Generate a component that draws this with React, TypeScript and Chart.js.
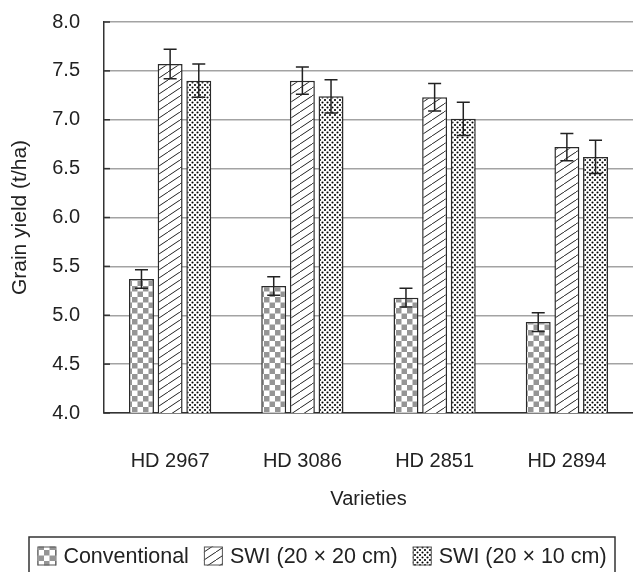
import React, { useEffect, useRef } from "react";
import { Chart, registerables } from "chart.js";

Chart.register(...registerables);

const FONT = "'Liberation Sans', Arial, Helvetica, sans-serif";

const varieties = ["HD 2967", "HD 3086", "HD 2851", "HD 2894"];
const seriesNames = ["Conventional", "SWI (20 × 20 cm)", "SWI (20 × 10 cm)"];
const conventional = [5.37, 5.3, 5.18, 4.93];
const swi20x20 = [7.57, 7.4, 7.23, 6.72];
const swi20x10 = [7.4, 7.24, 7.01, 6.62];
const conventionalErr = [0.095, 0.095, 0.095, 0.095];
const swi20x20Err = [0.15, 0.14, 0.14, 0.14];
const swi20x10Err = [0.17, 0.17, 0.17, 0.17];
const yMin = 4;
const yMax = 8;
const yStep = 0.5;
const xTitle = "Varieties";
const yTitle = "Grain yield (t/ha)";

function makePattern(kind: string): CanvasPattern | string {
  const c = document.createElement("canvas");
  const ctx = c.getContext("2d");
  if (!ctx) return "#ccc";
  if (kind === "checker") {
    const s = 5.5;
    c.width = 11;
    c.height = 11;
    ctx.fillStyle = "#ffffff";
    ctx.fillRect(0, 0, 11, 11);
    ctx.fillStyle = "#959595";
    ctx.fillRect(0, 0, s, s);
    ctx.fillRect(s, s, s, s);
  } else if (kind === "hatch") {
    const w = 12;
    const h = 8;
    c.width = w;
    c.height = h;
    ctx.fillStyle = "#ffffff";
    ctx.fillRect(0, 0, w, h);
    ctx.strokeStyle = "#222222";
    ctx.lineWidth = 1;
    for (const dx of [-w, 0, w]) {
      ctx.beginPath();
      ctx.moveTo(dx, h);
      ctx.lineTo(dx + w, 0);
      ctx.stroke();
    }
  } else {
    const s = 10;
    c.width = s;
    c.height = s;
    ctx.fillStyle = "#ffffff";
    ctx.fillRect(0, 0, s, s);
    ctx.fillStyle = "#000000";
    for (const [px, py] of [
      [2.5, 2.5],
      [7.5, 2.5],
      [0, 5],
      [5, 5],
      [10, 5],
      [2.5, 7.5],
      [7.5, 7.5],
      [0, 0],
      [5, 0],
      [10, 0],
      [0, 10],
      [5, 10],
      [10, 10],
    ]) {
      ctx.beginPath();
      ctx.arc(px, py, 1.05, 0, Math.PI * 2);
      ctx.fill();
    }
  }
  const p = ctx.createPattern(c, "repeat");
  return p || "#ccc";
}

const decorPlugin = {
  id: "decor",
  afterDatasetsDraw(chart: any) {
    const ctx = chart.ctx;
    const yScale = chart.scales.y;
    const area = chart.chartArea;
    ctx.save();
    // inward tick marks on y axis
    ctx.strokeStyle = "#333";
    ctx.lineWidth = 1.5;
    yScale.ticks.forEach((t: any) => {
      const y = yScale.getPixelForValue(t.value);
      ctx.beginPath();
      ctx.moveTo(area.left, y);
      ctx.lineTo(area.left + 6, y);
      ctx.stroke();
    });
    // error bars
    ctx.strokeStyle = "#222";
    ctx.lineWidth = 1.5;
    chart.data.datasets.forEach((ds: any, i: number) => {
      const meta = chart.getDatasetMeta(i);
      meta.data.forEach((el: any, j: number) => {
        const v = ds.data[j];
        const e = ds.errors[j];
        const x = el.x;
        const yTop = yScale.getPixelForValue(v + e);
        const yBot = yScale.getPixelForValue(v - e);
        const cap = 6.5;
        ctx.beginPath();
        ctx.moveTo(x, yTop);
        ctx.lineTo(x, yBot);
        ctx.moveTo(x - cap, yTop);
        ctx.lineTo(x + cap, yTop);
        ctx.moveTo(x - cap, yBot);
        ctx.lineTo(x + cap, yBot);
        ctx.stroke();
      });
    });
    ctx.restore();
  },
  afterDraw(chart: any) {
    const ctx = chart.ctx;
    ctx.save();
    ctx.font = `21.5px ${FONT}`;
    const sw = 19;
    const gapText = 7;
    const gapItem = 15;
    const items = chart.data.datasets.map((ds: any) => ({
      label: ds.label,
      bg: ds.backgroundColor,
      w: ctx.measureText(ds.label).width,
    }));
    const total =
      items.reduce((a: number, it: any) => a + sw + gapText + it.w, 0) +
      gapItem * (items.length - 1);
    const boxL = 29;
    const boxR = chart.width - 18;
    const boxT = 537;
    const boxB = chart.height + 10;
    ctx.strokeStyle = "#333";
    ctx.lineWidth = 1.5;
    ctx.strokeRect(boxL, boxT, boxR - boxL, boxB - boxT);
    let x = (boxL + boxR) / 2 - total / 2;
    const cy = 556;
    items.forEach((it: any) => {
      ctx.fillStyle = it.bg;
      ctx.fillRect(x, cy - sw / 2, sw, sw);
      ctx.strokeStyle = "#555";
      ctx.lineWidth = 1;
      ctx.strokeRect(x + 0.5, cy - sw / 2 + 0.5, sw - 1, sw - 1);
      ctx.fillStyle = "#222";
      ctx.textAlign = "left";
      ctx.textBaseline = "middle";
      ctx.fillText(it.label, x + sw + gapText, cy + 1);
      x += sw + gapText + it.w + gapItem;
    });
    ctx.restore();
  },
};

export default function App() {
  const ref = useRef<HTMLCanvasElement | null>(null);
  useEffect(() => {
    if (!ref.current) return;
    const patterns = [makePattern("checker"), makePattern("hatch"), makePattern("dots")];
    const values = [conventional, swi20x20, swi20x10];
    const errs = [conventionalErr, swi20x20Err, swi20x10Err];
    const chart = new Chart(ref.current, {
      type: "bar",
      data: {
        labels: varieties,
        datasets: seriesNames.map((name, i) => ({
          label: name,
          data: values[i],
          errors: errs[i],
          backgroundColor: patterns[i],
          borderColor: "#2a2a2a",
          borderWidth: 1.5,
          borderSkipped: false,
          categoryPercentage: 0.65,
          barPercentage: 0.87,
        })) as any,
      },
      options: {
        responsive: false,
        animation: false,
        devicePixelRatio: 1,
        layout: { padding: { top: 22, left: 0, right: 0, bottom: 61 } },
        plugins: { legend: { display: false }, tooltip: { enabled: false } },
        scales: {
          x: {
            grid: { display: false },
            border: { display: true, color: "#333", width: 1.5 },
            ticks: { color: "#222", font: { size: 20, family: FONT }, padding: 28 },
            title: {
              display: true,
              text: xTitle,
              color: "#222",
              font: { size: 20, family: FONT },
              padding: { top: 0, bottom: 0 },
            },
            afterFit: (s: any) => {
              s.height = 98;
              s.paddingLeft = 0;
              s.paddingRight = 0;
            },
          },
          y: {
            min: yMin,
            max: yMax,
            ticks: {
              stepSize: yStep,
              callback: (v: any) => Number(v).toFixed(1),
              color: "#222",
              font: { size: 20, family: FONT },
              padding: 24,
            },
            grid: { color: "#a3a3a3", lineWidth: 1.5, drawTicks: false },
            border: { display: true, color: "#333", width: 1.5 },
            title: {
              display: true,
              text: yTitle,
              color: "#222",
              font: { size: 21, family: FONT },
              padding: { top: 8, bottom: 0 },
            },
            afterFit: (s: any) => {
              s.width = 104;
              s.paddingTop = 0;
              s.paddingBottom = 0;
            },
          },
        },
      } as any,
      plugins: [decorPlugin],
    });
    return () => chart.destroy();
  }, []);
  return (
    <div style={{ position: "absolute", left: 0, top: 0, width: 633, height: 572, background: "#fff" }}>
      <canvas ref={ref} width={633} height={572} style={{ display: "block" }} />
    </div>
  );
}
